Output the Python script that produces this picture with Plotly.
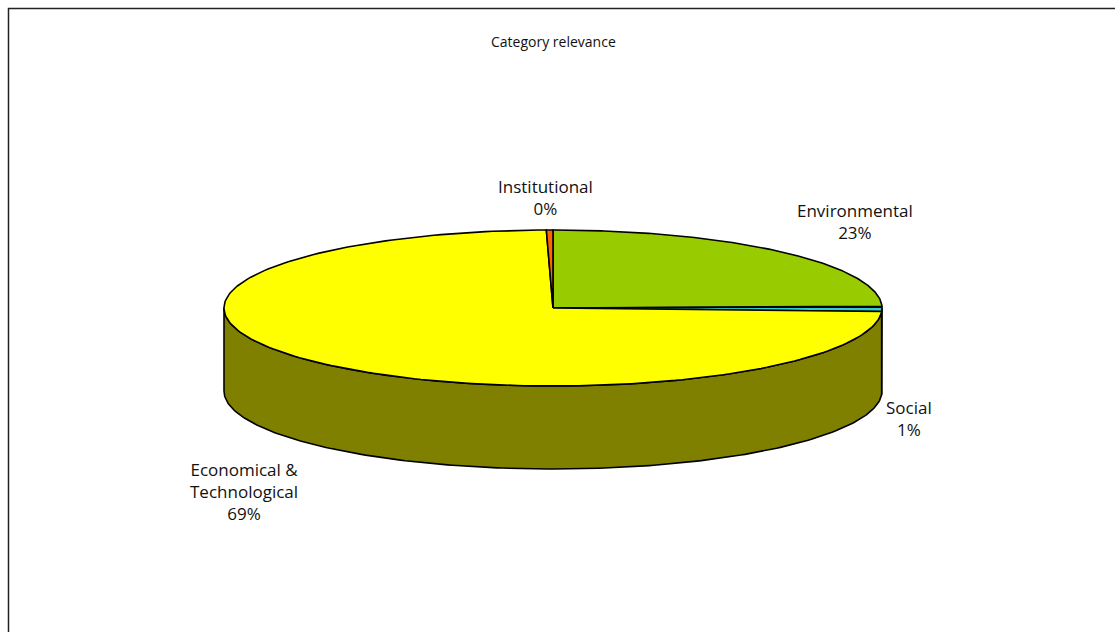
import numpy as np
import plotly.graph_objects as go

# Slices listed clockwise starting at 12 o'clock
categories = ["Environmental", "Social", "Economical &<br>Technological", "Institutional"]
values = [23, 1, 69, 0.3]
top_colors = ["#99CC00", "#33CCCC", "#FFFF00", "#FF6600"]
side_colors = ["#4D6600", "#1A6666", "#808000", "#803300"]
title_text = "Category relevance"

# Pie geometry (pixel space, y grows downward)
CX, CY = 553, 308
RX, RY = 329, 78
DEPTH = 83


def arc(t0, t1, dy=0.0, n=200):
    t = np.radians(np.linspace(t0, t1, n))
    return CX + RX * np.cos(t), CY - RY * np.sin(t) + dy


total = sum(values)
spans = [v / total * 360.0 for v in values]
starts, ends = [], []
a = 90.0
for s in spans:
    starts.append(a)
    ends.append(a - s)
    a -= s

fig = go.Figure()

# Side walls: only the front half (angles between -180 and 0) is visible
for i in range(len(values)):
    hi, lo = starts[i], ends[i]
    for k in (-1, 0, 1):
        f_hi = min(hi, 0 + 360 * k)
        f_lo = max(lo, -180 + 360 * k)
        if f_hi - f_lo > 1e-6:
            xt, yt = arc(f_hi, f_lo)
            xb, yb = arc(f_lo, f_hi, dy=DEPTH)
            xs = np.concatenate([xt, xb, xt[:1]])
            ys = np.concatenate([yt, yb, yt[:1]])
            fig.add_trace(go.Scatter(
                x=xs, y=ys, mode="lines", fill="toself",
                fillcolor=side_colors[i], line=dict(color="black", width=1.6),
                hoverinfo="skip", showlegend=False))

# Top faces
for i in range(len(values)):
    xa, ya = arc(starts[i], ends[i])
    xs = np.concatenate([[CX], xa, [CX]])
    ys = np.concatenate([[CY], ya, [CY]])
    fig.add_trace(go.Scatter(
        x=xs, y=ys, mode="lines", fill="toself",
        fillcolor=top_colors[i], line=dict(color="black", width=1.6),
        hoverinfo="skip", showlegend=False))

# Data labels
label_pos = {
    "Environmental": (855, 221),
    "Social": (909, 418),
    "Economical &<br>Technological": (244, 491),
    "Institutional": (545, 197),
}
label_font = dict(family="Open Sans", size=17, color="#111111")
for name, v in zip(categories, values):
    x, y = label_pos[name]
    fig.add_annotation(
        x=x, y=y, xref="x", yref="y", text=f"{name}<br>{v:.0f}%",
        showarrow=False, align="center", xanchor="center", yanchor="middle",
        font=label_font)

fig.add_annotation(
    x=553, y=41, xref="x", yref="y", text=title_text, showarrow=False,
    xanchor="center", yanchor="middle",
    font=dict(family="Open Sans", size=14, color="#111111"))

# Chart frame (right and bottom edges run past the visible area)
fig.add_shape(type="rect", xref="x", yref="y", x0=8.5, y0=8.5, x1=1130, y1=650,
              line=dict(color="#222222", width=1.5), fillcolor="rgba(0,0,0,0)")

fig.update_layout(
    width=1115, height=632,
    margin=dict(l=0, r=0, t=0, b=0),
    paper_bgcolor="white", plot_bgcolor="white",
    xaxis=dict(range=[0, 1115], visible=False, fixedrange=True),
    yaxis=dict(range=[632, 0], visible=False, fixedrange=True),
)

fig.write_html("out.html")
